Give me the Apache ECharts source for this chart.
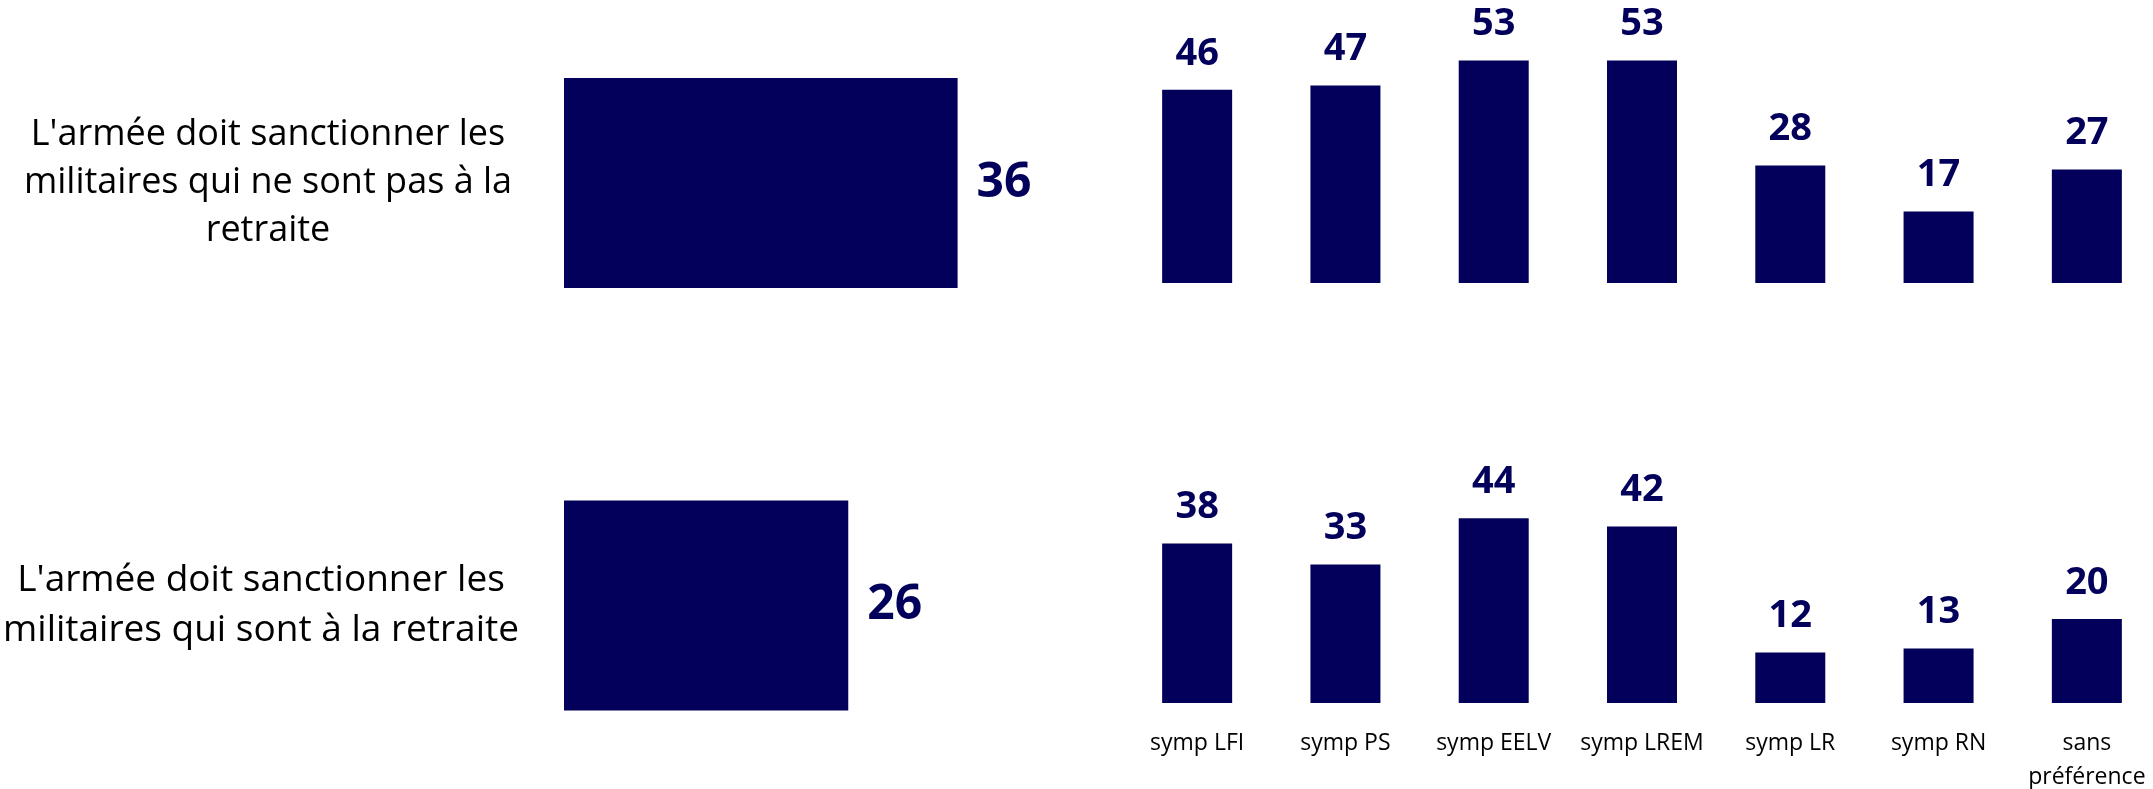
<!DOCTYPE html>
<html>
<head>
<meta charset="utf-8">
<script src="https://cdn.jsdelivr.net/npm/echarts@6/dist/echarts.min.js"></script>
<style>
  html, body { margin: 0; padding: 0; background: #ffffff; }
  #chart { width: 2153px; height: 789px; }
</style>
</head>
<body>
<div id="chart"></div>
<script>
// ---- data ----
const statementLabels = [
  "L'armée doit sanctionner les\nmilitaires qui ne sont pas à la\nretraite",
  "L'armée doit sanctionner les\nmilitaires qui sont à la retraite"
];
const totalValues = [36, 26];
const groupLabels = ['symp LFI', 'symp PS', 'symp EELV', 'symp LREM', 'symp LR', 'symp RN', 'sans\npréférence'];
const notRetiredValues = [46, 47, 53, 53, 28, 17, 27];
const retiredValues = [38, 33, 44, 42, 12, 13, 20];

// ---- style ----
const NAVY = '#02005a';
const FONT = 'Open Sans';

const chart = echarts.init(document.getElementById('chart'), null, { renderer: 'canvas' });

function hiddenValueAxis(gridIndex, max) {
  return {
    type: 'value', gridIndex: gridIndex, min: 0, max: max,
    show: false, splitLine: { show: false }
  };
}

const option = {
  backgroundColor: '#ffffff',
  animation: false,
  textStyle: { fontFamily: FONT },
  grid: [
    { left: 564, top: 33, width: 656, height: 300, outerBoundsMode: 'none', containLabel: false },
    { left: 564, top: 455.5, width: 656, height: 300, outerBoundsMode: 'none', containLabel: false },
    { left: 1123, top: 31, width: 1038, height: 252, outerBoundsMode: 'none', containLabel: false },
    { left: 1123, top: 451, width: 1038, height: 252, outerBoundsMode: 'none', containLabel: false }
  ],
  xAxis: [
    hiddenValueAxis(0, 60),
    hiddenValueAxis(1, 60),
    {
      type: 'category', gridIndex: 2, data: groupLabels,
      axisLine: { show: false }, axisTick: { show: false }, axisLabel: { show: false }
    },
    {
      type: 'category', gridIndex: 3, data: groupLabels,
      axisLine: { show: false }, axisTick: { show: false },
      axisLabel: {
        show: true, interval: 0, margin: 23, color: '#000000',
        fontFamily: FONT, fontSize: 23, lineHeight: 34
      }
    }
  ],
  yAxis: [
    {
      type: 'category', gridIndex: 0, data: [statementLabels[0]],
      axisLine: { show: false }, axisTick: { show: false },
      axisLabel: {
        align: 'center', margin: 296, color: '#000000',
        fontFamily: FONT, fontSize: 36, lineHeight: 48
      }
    },
    {
      type: 'category', gridIndex: 1, data: [statementLabels[1]],
      axisLine: { show: false }, axisTick: { show: false },
      axisLabel: {
        align: 'center', margin: 303, color: '#000000',
        fontFamily: FONT, fontSize: 37, lineHeight: 50
      }
    },
    hiddenValueAxis(2, 60),
    hiddenValueAxis(3, 60)
  ],
  series: [
    {
      type: 'bar', xAxisIndex: 0, yAxisIndex: 0,
      data: [totalValues[0]], barWidth: 210,
      itemStyle: { color: NAVY },
      label: { show: true, position: 'right', distance: 19, color: NAVY,
               fontFamily: FONT, fontWeight: 'bold', fontSize: 48 }
    },
    {
      type: 'bar', xAxisIndex: 1, yAxisIndex: 1,
      data: [totalValues[1]], barWidth: 210,
      itemStyle: { color: NAVY },
      label: { show: true, position: 'right', distance: 19, color: NAVY,
               fontFamily: FONT, fontWeight: 'bold', fontSize: 48 }
    },
    {
      type: 'bar', xAxisIndex: 2, yAxisIndex: 2,
      data: notRetiredValues, barWidth: 70,
      itemStyle: { color: NAVY },
      label: { show: true, position: 'top', distance: 17, color: NAVY,
               fontFamily: FONT, fontWeight: 'bold', fontSize: 38 }
    },
    {
      type: 'bar', xAxisIndex: 3, yAxisIndex: 3,
      data: retiredValues, barWidth: 70,
      itemStyle: { color: NAVY },
      label: { show: true, position: 'top', distance: 17, color: NAVY,
               fontFamily: FONT, fontWeight: 'bold', fontSize: 38 }
    }
  ]
};

chart.setOption(option);
</script>
</body>
</html>
